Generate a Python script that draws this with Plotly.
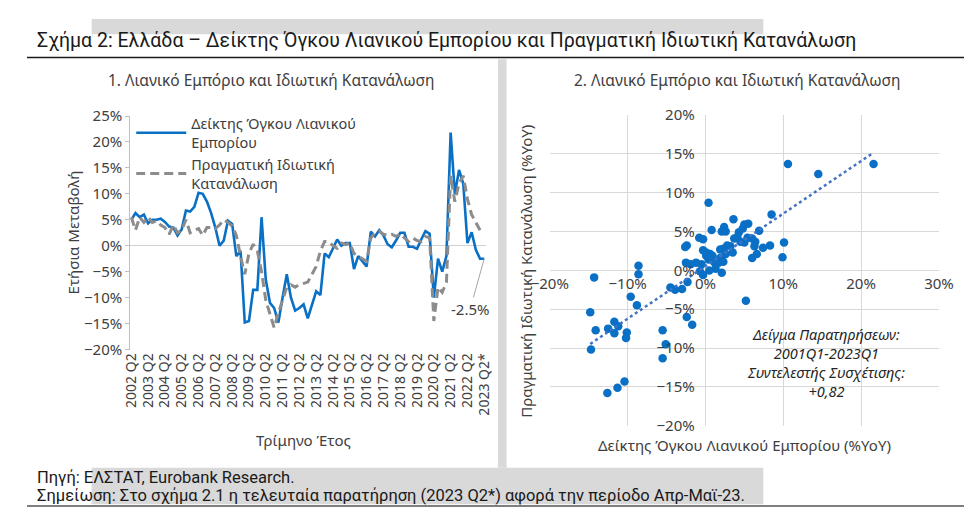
import plotly.graph_objects as go
import numpy as np

# ---------------- data ----------------
years = list(range(2002, 2024))
quarters = []
for y in years:
    for q in range(1, 5):
        if (y == 2002 and q < 2) or (y == 2023 and q > 2):
            continue
        quarters.append(f"{y} Q{q}")
quarters[-1] = "2023 Q2*"

tick_labels = [f"{y} Q2" for y in range(2002, 2023)] + ["2023 Q2*"]

retail = [5.0, 6.3, 5.5, 6.0, 4.3, 5.0, 5.0, 5.2, 4.6, 3.7,
          3.5, 2.0, 3.2, 6.8, 6.6, 7.5, 10.2, 10.0, 8.5, 6.3,
          3.5, 0.0, 1.0, 4.8, 4.2, -2.0, -1.0, -14.8, -14.5, -8.5,
          -8.5, 5.5, -6.5, -11.0, -12.0, -14.8, -10.0, -5.5, -10.0, -12.5,
          -12.0, -11.3, -14.0, -11.5, -8.8, -9.5, -1.5, -2.2, -0.5, 1.2,
          0.0, 0.5, 0.5, -4.5, -2.0, -3.0, -4.0, 2.7, 1.8, 3.0,
          2.0, 0.3, -0.3, 1.0, 2.5, 2.5, -0.2, -0.2, -0.6, 1.2,
          2.8, 2.3, -10.0, -2.5, -5.0, -2.0, 21.8, 10.0, 14.6, 12.0,
          0.5, 2.6, -0.8, -2.5, -2.5]

consumption = [5.5, 3.0, 5.5, 4.5, 5.5, 4.5, 4.8, 4.0, 3.5, 2.2,
               4.0, 2.5, 3.0, 5.0, 2.5, 3.0, 3.3, 2.0, 3.5, 3.5,
               3.3, 4.0, 5.0, 4.5, 3.8, 2.0, -2.0, -5.5, -1.5, 0.3,
               -1.0, -5.0, -10.5, -13.0, -15.8, -13.0, -10.5, -8.0, -7.5, -8.0,
               -7.5, -7.2, -7.0, -5.5, -4.0, -1.0, 0.8, 0.8, 0.0, -0.5,
               0.5, 0.2, 0.5, -1.5, -2.0, -2.5, -3.0, 1.5, 2.5, 2.8,
               2.2, 2.0, 2.2, 1.8, 2.3, 1.5, 0.8, 1.5, 1.0, 0.8,
               1.8, 1.5, -14.5, -8.0, -9.0, -7.0, 13.5, 8.5, 12.0, 13.5,
               9.0, 6.0, 4.5, 3.0, None]

scatter_x = [21.6, 10.6, 14.5, 0.4, 8.5, 3.6, 0.8, 2.4, 2.1, 2.6,
             5.5, 5.0, 4.8, 4.3, 4.1, 3.7, 4.5, 5.0, 5.4, 6.0,
             6.4, 6.3, 6.9, 10.1, 8.3, 7.4, 6.6, 6.0, 9.9, -0.8,
             -0.3, -2.4, -2.6, -0.3, 0.1, 0.6, 0.9, 0.1, 0.4, 0.8,
             1.9, 2.3, 2.8, 3.2, 3.5, 2.6, 1.9, 1.2, 1.7, 2.3,
             1.3, 0.5, -0.5, -1.2, -1.9, -2.5, -0.7, -0.3, 2.1, 5.2,
             -8.6, -8.6, -14.3, -9.6, -8.8, -14.8, -2.3, -3.0, -3.9, -4.5,
             -2.4, -1.7, -5.5, -11.7, -11.2, -12.5, -14.1, -11.7, -10.1, -10.2,
             -14.7, -5.1, -5.5, -12.6, -11.3, -10.4]
scatter_y = [13.7, 13.7, 12.4, 8.7, 7.2, 6.6, 5.2, 5.6, 5.0, 5.0,
             6.0, 5.9, 5.4, 4.9, 4.3, 4.1, 3.7, 3.6, 4.2, 4.1,
             3.7, 3.1, 5.1, 3.6, 3.2, 2.9, 2.1, 1.6, 1.7, 4.2,
             4.0, 3.2, 3.0, 2.6, 2.3, 2.1, 1.9, 1.9, 1.4, 1.6,
             2.7, 2.8, 3.2, 3.1, 2.3, 2.1, 1.6, 1.0, 1.0, 1.1,
             0.2, 0.0, 0.8, 1.0, 0.8, 1.0, -0.1, -0.6, -0.3, -3.9,
             0.6, -0.5, -0.9, -3.4, -4.5, -5.4, -1.5, -2.4, -2.5, -2.2,
             -6.0, -7.0, -7.7, -6.6, -7.2, -7.5, -7.7, -8.1, -8.0, -8.7,
             -10.2, -9.5, -11.3, -15.8, -15.1, -14.3]

correlation_text = "+0,82"
sample_text = "2001Q1-2023Q1"

# ---------------- styling helpers ----------------
W, H = 972, 510
def px(x):
    return x / W
def py(y):
    return 1 - y / H

BLUE = "#0A70C6"
GREY = "#8C8C8C"
TXT = "#404040"
FONT = "Noto Sans, Open Sans, DejaVu Sans, sans-serif"
NARROW = "Roboto, Noto Sans, sans-serif"

fig = go.Figure()

# left chart lines
fig.add_trace(go.Scatter(
    x=quarters, y=retail, mode="lines", name="Δείκτης Όγκου Λιανικού<br>Εμπορίου",
    line=dict(color=BLUE, width=2.6), xaxis="x", yaxis="y"))
fig.add_trace(go.Scatter(
    x=quarters, y=consumption, mode="lines", name="Πραγματική Ιδιωτική<br>Κατανάλωση",
    line=dict(color=GREY, width=3, dash="9px,5px"), xaxis="x", yaxis="y",
    connectgaps=False))

# right chart scatter
fig.add_trace(go.Scatter(
    x=scatter_x, y=scatter_y, mode="markers", showlegend=False,
    marker=dict(color=BLUE, size=8.5), xaxis="x2", yaxis="y2"))

# trend line (OLS fit of the scatter data)
sx = np.array(scatter_x)
sy = np.array(scatter_y)
slope, intercept = np.polyfit(sx, sy, 1)
tx = np.array([sx.min(), sx.max()])
fig.add_trace(go.Scatter(
    x=tx, y=slope * tx + intercept, mode="lines", showlegend=False,
    line=dict(color="#4472C4", width=2.5, dash="dot"), xaxis="x2", yaxis="y2"))

# ---------------- axes ----------------
x2_dom = [px(541.7), px(945)]
y2_dom = [py(423.3), py(100)]

fig.update_layout(
    width=W, height=H,
    margin=dict(l=0, r=0, t=0, b=0),
    paper_bgcolor="white",
    plot_bgcolor="rgba(0,0,0,0)",
    font=dict(family=FONT, size=14, color=TXT),
    showlegend=True,
    legend=dict(x=px(108), y=py(92), xanchor="left", yanchor="top",
                bgcolor="rgba(0,0,0,0)", font=dict(size=14.5, color=TXT),
                tracegroupgap=2, itemwidth=50),
    xaxis=dict(domain=[px(107), px(476)], type="category",
               range=[-0.25, len(quarters) - 0.5],
               tickmode="array", tickvals=tick_labels,
               ticktext=tick_labels, tickangle=-90,
               showgrid=False, showline=False, ticks="", zeroline=False,
               tickfont=dict(size=14, color=TXT), anchor="y"),
    yaxis=dict(domain=[py(344), py(101)], range=[-20, 25], dtick=5,
               ticksuffix="%", showgrid=False, zeroline=True,
               zerolinecolor="#D0D0D0", zerolinewidth=1,
               showline=True, linecolor="#BFBFBF", linewidth=1,
               ticks="outside", ticklen=4, tickcolor="#BFBFBF",
               tickfont=dict(size=15, color=TXT), anchor="x"),
    xaxis2=dict(domain=x2_dom, range=[-20, 30], dtick=10, ticksuffix="%",
                showgrid=True, gridcolor="#D9D9D9", gridwidth=1,
                zeroline=True, zerolinecolor="#D9D9D9", zerolinewidth=1,
                showline=False, ticks="", anchor="free",
                position=py(261.7), ticklabelstandoff=3,
                tickfont=dict(size=15, color=TXT)),
    yaxis2=dict(domain=y2_dom, range=[-20, 20], dtick=5, ticksuffix="%",
                showgrid=True, gridcolor="#D9D9D9", gridwidth=1,
                zeroline=True, zerolinecolor="#D9D9D9", zerolinewidth=1,
                showline=False, ticks="", anchor="free",
                position=px(703.3), ticklabelstandoff=11,
                tickfont=dict(size=15, color=TXT)),
)

# ---------------- background shapes ----------------
shapes = [
    dict(type="rect", xref="paper", yref="paper", x0=px(67), x1=px(763),
         y0=py(16), y1=py(0), fillcolor="#D9D9D9", line_width=0, layer="below"),
    dict(type="rect", xref="paper", yref="paper", x0=px(488), x1=px(497),
         y0=py(467), y1=py(42), fillcolor="#D9D9D9", line_width=0, layer="below"),
    dict(type="rect", xref="paper", yref="paper", x0=px(67), x1=px(763),
         y0=py(505), y1=py(467), fillcolor="#D9D9D9", line_width=0, layer="below"),
    dict(type="line", xref="paper", yref="paper", x0=0, x1=1,
         y0=py(40), y1=py(40), line=dict(color="#1A1A1A", width=1.5)),
    dict(type="line", xref="paper", yref="paper", x0=0, x1=1,
         y0=py(507), y1=py(507), line=dict(color="#555555", width=1.5)),
]
fig.update_layout(shapes=shapes)

# ---------------- annotations ----------------
ann = []
ann.append(dict(text="Σχήμα 2: Ελλάδα – Δείκτης Όγκου Λιανικού Εμπορίου και Πραγματική Ιδιωτική Κατανάλωση",
                x=px(8), y=py(22), xref="paper", yref="paper", xanchor="left", yanchor="middle",
                showarrow=False, font=dict(family=NARROW, size=19.5, color="#1A1A1A")))
ann.append(dict(text="Πηγή: ΕΛΣΤΑΤ, Eurobank Research.",
                x=px(8), y=py(477), xref="paper", yref="paper", xanchor="left", yanchor="middle",
                showarrow=False, font=dict(family=NARROW, size=16.5, color="#1A1A1A")))
ann.append(dict(text="Σημείωση: Στο σχήμα 2.1 η τελευταία παρατήρηση (2023 Q2*) αφορά την περίοδο Απρ-Μαϊ-23.",
                x=px(8), y=py(496), xref="paper", yref="paper", xanchor="left", yanchor="middle",
                showarrow=False, font=dict(family=NARROW, size=16.5, color="#1A1A1A")))
ann.append(dict(text="1. Λιανικό Εμπόριο και Ιδιωτική Κατανάλωση",
                x=px(253), y=py(63), xref="paper", yref="paper", xanchor="center", yanchor="middle",
                showarrow=False, font=dict(size=15.5, color=TXT)))
ann.append(dict(text="2. Λιανικό Εμπόριο και Ιδιωτική Κατανάλωση",
                x=px(736), y=py(63), xref="paper", yref="paper", xanchor="center", yanchor="middle",
                showarrow=False, font=dict(size=15.5, color=TXT)))
ann.append(dict(text="Ετήσια Μεταβολή", textangle=-90,
                x=px(48), y=py(222), xref="paper", yref="paper", xanchor="center", yanchor="middle",
                showarrow=False, font=dict(size=15, color=TXT)))
ann.append(dict(text="Τρίμηνο Έτος",
                x=px(287), y=py(438), xref="paper", yref="paper", xanchor="center", yanchor="middle",
                showarrow=False, font=dict(size=15, color=TXT)))
ann.append(dict(text="Πραγματική Ιδιωτική Κατανάλωση (%YoY)", textangle=-90,
                x=px(517), y=py(262), xref="paper", yref="paper", xanchor="center", yanchor="middle",
                showarrow=False, font=dict(size=15, color=TXT)))
ann.append(dict(text="Δείκτης Όγκου Λιανικού Εμπορίου (%YoY)",
                x=px(743), y=py(443), xref="paper", yref="paper", xanchor="center", yanchor="middle",
                showarrow=False, font=dict(size=15, color=TXT)))
ann.append(dict(text=f"<i>Δείγμα Παρατηρήσεων:<br>{sample_text}<br>Συντελεστής Συσχέτισης:<br>{correlation_text}</i>",
                x=px(828), y=py(357), xref="paper", yref="paper", xanchor="center", yanchor="middle",
                showarrow=False, align="center", font=dict(size=14.5, color="#262626")))
ann.append(dict(text=f"{retail[-1]:.1f}%", x=quarters[-1], y=retail[-1], xref="x", yref="y",
                showarrow=True, arrowhead=0, arrowwidth=1, arrowcolor="#A6A6A6",
                ax=-14, ay=50, font=dict(size=15, color=TXT)))
fig.update_layout(annotations=ann)

fig.write_html("out.html")
